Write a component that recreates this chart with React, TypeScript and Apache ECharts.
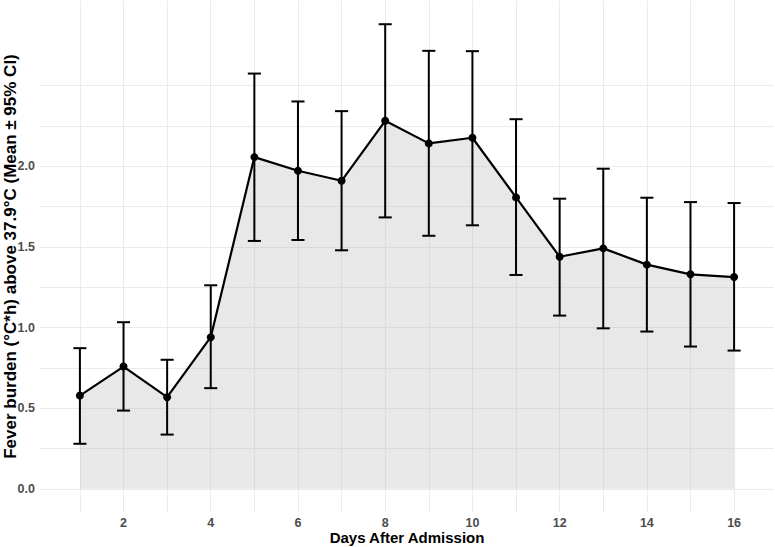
import React, { useEffect, useRef } from "react";
import * as echarts from "echarts";

const days = [1, 2, 3, 4, 5, 6, 7, 8, 9, 10, 11, 12, 13, 14, 15, 16];
const meanBurden = [0.578, 0.758, 0.568, 0.94, 2.057, 1.972, 1.91, 2.282, 2.142, 2.177, 1.807, 1.439, 1.491, 1.39, 1.33, 1.313];
const lowerCI = [0.279, 0.485, 0.336, 0.624, 1.537, 1.543, 1.479, 1.683, 1.569, 1.634, 1.326, 1.074, 0.995, 0.975, 0.882, 0.857];
const upperCI = [0.872, 1.033, 0.8, 1.262, 2.575, 2.402, 2.342, 2.881, 2.716, 2.714, 2.292, 1.799, 1.985, 1.805, 1.778, 1.772];

const xTickLabels = [2, 4, 6, 8, 10, 12, 14, 16];
const yTickLabels = [0, 0.5, 1.0, 1.5, 2.0];
const xGridLines = [1, 2, 3, 4, 5, 6, 7, 8, 9, 10, 11, 12, 13, 14, 15, 16];
const yGridLines = [0, 0.25, 0.5, 0.75, 1.0, 1.25, 1.5, 1.75, 2.0, 2.25, 2.5];

const capHalfWidth = 0.15;

export default function App() {
  const ref = useRef<HTMLDivElement>(null);

  useEffect(() => {
    if (!ref.current) return;
    const chart = echarts.init(ref.current, null, { renderer: "svg" });

    const xLo = Math.min(...days) - capHalfWidth;
    const xHi = Math.max(...days) + capHalfWidth;
    const xPad = (xHi - xLo) * 0.05;
    const yTop = Math.max(...upperCI);
    const yPad = yTop * 0.05;

    const font = "'Liberation Sans', Arial, Helvetica, sans-serif";

    const pointData = days.map((d, i) => [d, meanBurden[i]]);
    const errData = days.map((d, i) => [d, lowerCI[i], upperCI[i]]);

    chart.setOption({
      animation: false,
      backgroundColor: "#ffffff",
      grid: { left: 40, right: 1, top: 1, bottom: 35, outerBoundsMode: "none", containLabel: false },
      xAxis: {
        type: "value",
        min: xLo - xPad,
        max: xHi + xPad,
        name: "Days After Admission",
        nameLocation: "middle",
        nameGap: 18,
        nameMoveOverlap: false,
        nameTextStyle: { fontFamily: font, fontWeight: "bold", fontSize: 15, color: "#000" },
        axisLine: { show: false },
        axisTick: { show: false },
        splitLine: { show: false },
        axisLabel: {
          customValues: xTickLabels,
          margin: 4,
          fontFamily: font,
          fontWeight: "bold",
          fontSize: 12.5,
          color: "#4d4d4d",
          formatter: (v: number) => String(v),
        },
      },
      yAxis: {
        type: "value",
        min: -yPad,
        max: yTop + yPad,
        name: "Fever burden (°C*h) above 37.9°C (Mean ± 95% CI)",
        nameLocation: "middle",
        nameGap: 21,
        nameMoveOverlap: false,
        nameTextStyle: { fontFamily: font, fontWeight: "bold", fontSize: 17, color: "#000" },
        axisLine: { show: false },
        axisTick: { show: false },
        splitLine: { show: false },
        axisLabel: {
          customValues: yTickLabels,
          margin: 5,
          fontFamily: font,
          fontWeight: "bold",
          fontSize: 12.5,
          color: "#4d4d4d",
          formatter: (v: number) => v.toFixed(1),
        },
      },
      series: [
        {
          type: "line",
          z: 0,
          data: pointData,
          showSymbol: false,
          lineStyle: { opacity: 0 },
          silent: true,
          markLine: {
            z: 0,
            silent: true,
            symbol: "none",
            label: { show: false },
            lineStyle: { color: "#ebebeb", width: 1, type: "solid" },
            data: [
              ...yGridLines.map((v) => ({ yAxis: v })),
              ...xGridLines.map((v) => ({ xAxis: v })),
            ],
          },
        },
        {
          type: "line",
          z: 1,
          data: pointData,
          showSymbol: false,
          lineStyle: { opacity: 0 },
          areaStyle: { color: "rgba(178,178,178,0.42)", origin: "auto" },
          silent: true,
        },
        {
          type: "custom",
          z: 2,
          data: errData,
          encode: { x: 0, y: [1, 2] },
          renderItem: (params: any, api: any) => {
            const x = api.value(0);
            const lo = api.value(1);
            const hi = api.value(2);
            const pLo = api.coord([x, lo]);
            const pHi = api.coord([x, hi]);
            const hw = api.size([capHalfWidth, 0])[0];
            const style = { stroke: "#000", lineWidth: 2 };
            return {
              type: "group",
              children: [
                { type: "line", shape: { x1: pLo[0], y1: pLo[1], x2: pHi[0], y2: pHi[1] }, style },
                { type: "line", shape: { x1: pLo[0] - hw, y1: pLo[1], x2: pLo[0] + hw, y2: pLo[1] }, style },
                { type: "line", shape: { x1: pHi[0] - hw, y1: pHi[1], x2: pHi[0] + hw, y2: pHi[1] }, style },
              ],
            };
          },
        },
        {
          type: "line",
          z: 3,
          data: pointData,
          symbol: "circle",
          symbolSize: 8,
          showSymbol: true,
          itemStyle: { color: "#000" },
          lineStyle: { color: "#000", width: 2.2 },
        },
      ],
    });

    return () => chart.dispose();
  }, []);

  return (
    <div
      ref={ref}
      style={{ position: "fixed", left: 0, top: 0, width: 775, height: 547, background: "#fff" }}
    />
  );
}
